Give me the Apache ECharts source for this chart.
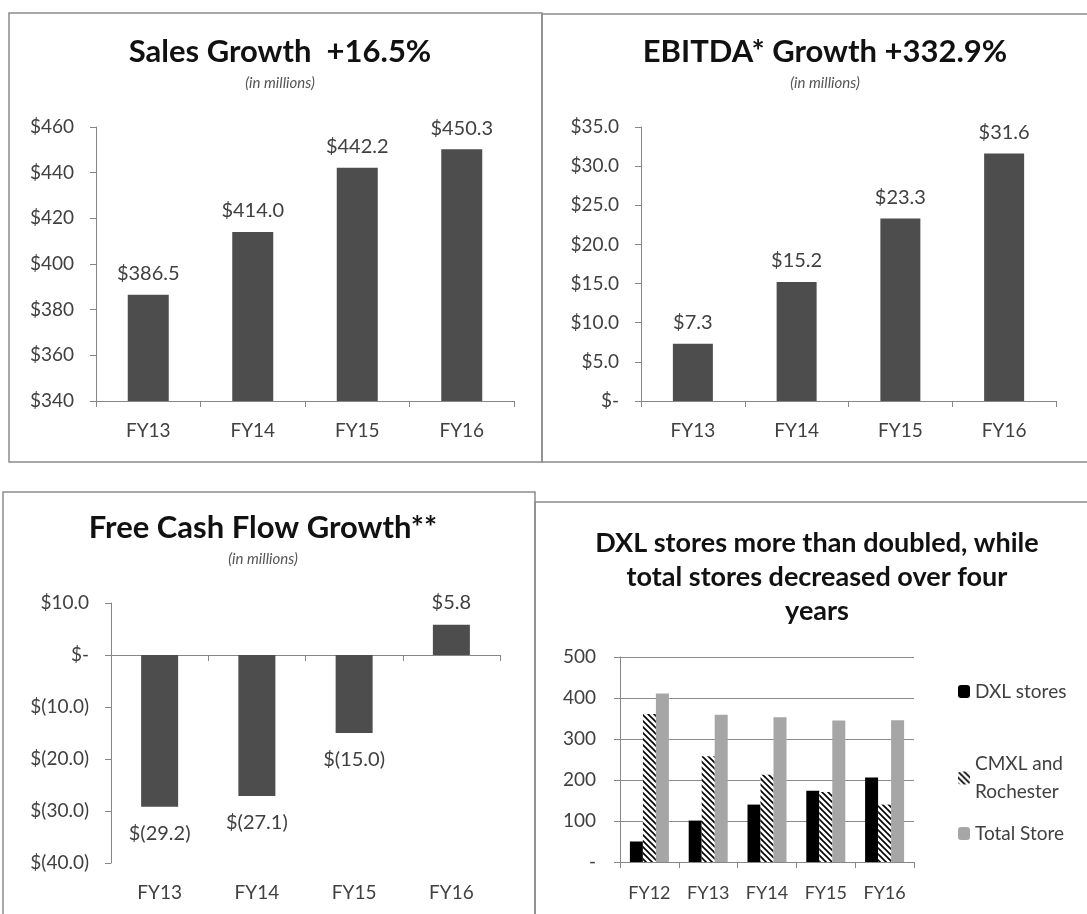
<!DOCTYPE html>
<html>
<head>
<meta charset="utf-8">
<script src="https://cdn.jsdelivr.net/npm/echarts@6/dist/echarts.min.js"></script>
<style>
html, body { margin: 0; padding: 0; background: #fff; }
#main { width: 1087px; height: 914px; }
</style>
</head>
<body>
<div id="main"></div>
<script>
var years = ['FY13', 'FY14', 'FY15', 'FY16'];
var sales = [386.5, 414.0, 442.2, 450.3];
var ebitda = [7.3, 15.2, 23.3, 31.6];
var freeCash = [-29.2, -27.1, -15.0, 5.8];

var storeYears = ['FY12', 'FY13', 'FY14', 'FY15', 'FY16'];
var dxlStores = [50, 101, 140, 174, 206];
var cmxlStores = [361, 258, 213, 171, 140];
var totalStores = [411, 359, 353, 345, 346];

var txt = '#404040';
var axisGray = '#868686';
var barGray = '#4d4d4d';
var font = 'Lato';

// hatch for the CMXL bars
var hatch = document.createElement('canvas');
hatch.width = 6; hatch.height = 6;
var hc = hatch.getContext('2d');
hc.fillStyle = '#fff';
hc.fillRect(0, 0, 6, 6);
hc.strokeStyle = '#000';
hc.lineWidth = 1.6;
hc.beginPath();
hc.moveTo(-1, -1); hc.lineTo(7, 7);
hc.moveTo(-4, 2); hc.lineTo(4, 10);
hc.moveTo(2, -4); hc.lineTo(10, 4);
hc.stroke();

function money(v) {
    if (v === 0) return '$-';
    if (v < 0) return '$(' + (-v).toFixed(1) + ')';
    return '$' + v.toFixed(1);
}

var tickLabel = { color: txt, fontFamily: font, fontSize: 19 };

function yAx(grid, min, max, step, fmt, extra) {
    var a = {
        type: 'value', gridIndex: grid, min: min, max: max, interval: step,
        axisLine: { show: true, lineStyle: { color: axisGray } },
        axisTick: { show: true, length: 6, lineStyle: { color: axisGray } },
        axisLabel: Object.assign({ margin: 22, formatter: fmt }, tickLabel),
        splitLine: { show: false }
    };
    return Object.assign(a, extra || {});
}

function xAx(grid, data, extra) {
    var a = {
        type: 'category', gridIndex: grid, data: data, position: 'bottom',
        axisLine: { show: true, onZero: false, lineStyle: { color: axisGray } },
        axisTick: { show: true, length: 6, lineStyle: { color: axisGray } },
        axisLabel: Object.assign({ margin: 20 }, tickLabel)
    };
    return Object.assign(a, extra || {});
}

function border(x, y, w, h) {
    return { type: 'rect', shape: { x: x, y: y, width: w, height: h },
             style: { fill: null, stroke: '#8c8c8c', lineWidth: 1.5 }, silent: true };
}

function heading(text, x, y) {
    return { text: text, subtext: '(in millions)', left: x, top: y, textAlign: 'center', itemGap: 9,
             textStyle: { fontSize: 31, fontWeight: 'bold', color: '#111', fontFamily: font },
             subtextStyle: { fontSize: 15, fontStyle: 'italic', color: '#555', fontFamily: font } };
}

var labelStyle = { show: true, color: txt, fontFamily: font, fontSize: 20 };

var chart = echarts.init(document.getElementById('main'));
chart.setOption({
    animation: false,
    textStyle: { fontFamily: font },
    graphic: [
        border(9, 13, 533, 449),
        border(542, 14, 560, 448),
        border(3, 492, 532, 440),
        border(535, 502, 570, 430)
    ],
    title: [
        heading('Sales Growth  +16.5%', 275, 31),
        heading('EBITDA* Growth +332.9%', 820, 31),
        heading('Free Cash Flow Growth**', 258, 507),
        { text: 'DXL stores more than doubled, while\ntotal stores decreased over four\nyears', left: 812, top: 521, textAlign: 'center',
          textStyle: { fontSize: 27, fontWeight: 'bold', color: '#111', fontFamily: font, lineHeight: 34 } }
    ],
    grid: [
        { left: 96, top: 127, width: 418, height: 274 },
        { left: 641, top: 127, width: 415, height: 274 },
        { left: 111, top: 603, width: 389, height: 260 },
        { left: 620, top: 657, width: 294, height: 205 }
    ],
    xAxis: [
        xAx(0, years),
        xAx(1, years),
        xAx(2, years, { axisLine: { show: true, onZero: true, lineStyle: { color: axisGray } }, axisLabel: { show: false } }),
        xAx(2, years, { axisLine: { show: false, onZero: false }, axisTick: { show: false } }),
        xAx(3, storeYears, { axisLabel: Object.assign({ margin: 22 }, tickLabel, { fontSize: 18 }) })
    ],
    yAxis: [
        yAx(0, 340, 460, 20, function (v) { return '$' + v; }),
        yAx(1, 0, 35, 5, function (v) { return v === 0 ? '$-' : '$' + v.toFixed(1); }),
        yAx(2, -40, 10, 10, money),
        yAx(3, 0, 500, 100, null, {
            axisLabel: Object.assign({ margin: 24, formatter: function (v) { return v === 0 ? '-' : v; } }, tickLabel),
            splitLine: { show: true, lineStyle: { color: '#8c8c8c', width: 1 } }
        })
    ],
    legend: [
        { data: ['DXL stores'], left: 953, top: 677, itemWidth: 12, itemHeight: 13,
          textStyle: { fontSize: 19, color: txt, fontFamily: font } },
        { data: ['CMXL and Rochester'], left: 953, top: 745, itemWidth: 12, itemHeight: 13,
          formatter: function () { return 'CMXL and\nRochester'; },
          textStyle: { fontSize: 19, color: txt, fontFamily: font, lineHeight: 28 } },
        { data: ['Total Store'], left: 953, top: 819, itemWidth: 12, itemHeight: 13,
          textStyle: { fontSize: 19, color: txt, fontFamily: font } }
    ],
    series: [
        { type: 'bar', xAxisIndex: 0, yAxisIndex: 0, data: sales, barWidth: 41,
          itemStyle: { color: barGray },
          label: Object.assign({ position: 'top', distance: 11, formatter: function (p) { return '$' + p.value.toFixed(1); } }, labelStyle) },
        { type: 'bar', xAxisIndex: 1, yAxisIndex: 1, data: ebitda, barWidth: 40,
          itemStyle: { color: barGray },
          label: Object.assign({ position: 'top', distance: 11, formatter: function (p) { return money(p.value); } }, labelStyle) },
        { type: 'bar', xAxisIndex: 2, yAxisIndex: 2, barWidth: 37,
          data: freeCash.map(function (v) {
              return { value: v, label: { position: v < 0 ? 'bottom' : 'top', distance: v < 0 ? 17 : 12 } };
          }),
          itemStyle: { color: barGray },
          label: Object.assign({ formatter: function (p) { return money(p.value); } }, labelStyle) },
        { name: 'DXL stores', type: 'bar', xAxisIndex: 4, yAxisIndex: 3, data: dxlStores,
          barWidth: 13, barGap: '0%', itemStyle: { color: '#000' } },
        { name: 'CMXL and Rochester', type: 'bar', xAxisIndex: 4, yAxisIndex: 3, data: cmxlStores,
          barWidth: 13, barGap: '0%', itemStyle: { color: { image: hatch, repeat: 'repeat' } } },
        { name: 'Total Store', type: 'bar', xAxisIndex: 4, yAxisIndex: 3, data: totalStores,
          barWidth: 13, barGap: '0%', itemStyle: { color: '#a6a6a6' } }
    ]
});
</script>
</body>
</html>
